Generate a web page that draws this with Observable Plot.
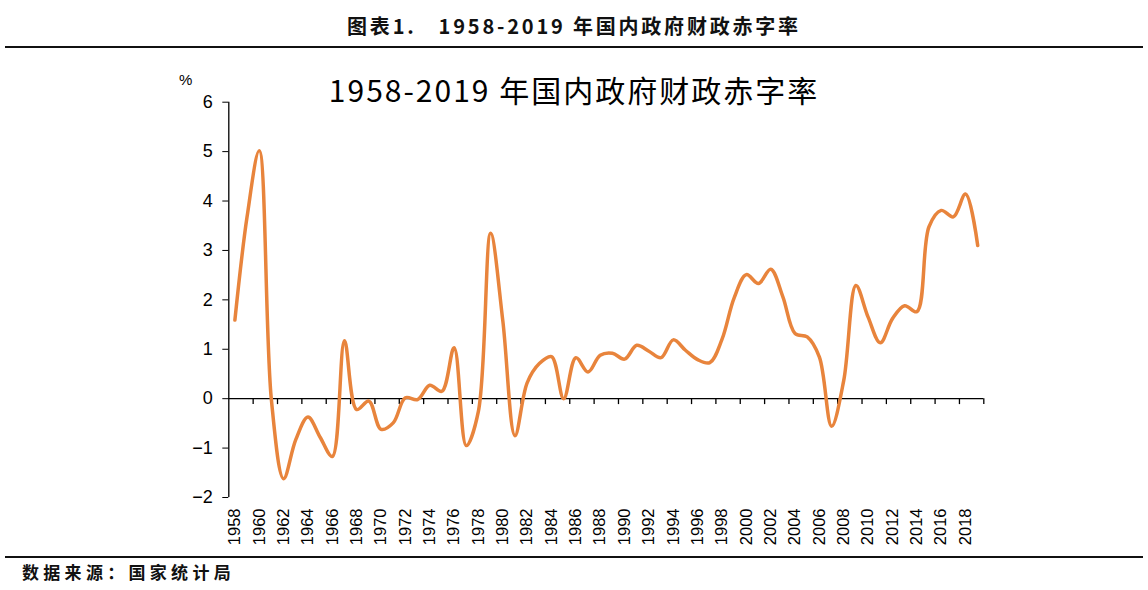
<!DOCTYPE html>
<html><head><meta charset="utf-8">
<script src="https://cdn.jsdelivr.net/npm/d3@7"></script>
<script src="https://cdn.jsdelivr.net/npm/@observablehq/plot@0.6"></script>
<style>
body{margin:0;background:#fff;}
#root{position:relative;width:1148px;height:590px;overflow:hidden;background:#fff;}
#head{position:absolute;left:0;top:13px;width:1148px;text-align:center;font:bold 20px "Noto Sans CJK SC",sans-serif;letter-spacing:2.8px;color:#111;line-height:26px;}
.rule{position:absolute;left:5px;width:1138px;height:1.5px;background:#111;}
#title{position:absolute;left:0;top:74px;width:1148px;text-align:center;font:30px "Noto Sans CJK SC",sans-serif;letter-spacing:2px;color:#000;line-height:30px;}
#pct{position:absolute;left:179px;top:71px;font:15px "Liberation Sans",sans-serif;color:#000;}
#foot{position:absolute;left:22px;top:561px;font:bold 17px "Noto Sans CJK SC",sans-serif;letter-spacing:4.3px;color:#111;line-height:22px;}
#chart{position:absolute;left:0;top:60px;}
</style></head>
<body><div id="root">
<div id="head">图表1.&nbsp;&nbsp; 1958-2019 年国内政府财政赤字率</div>
<div class="rule" style="top:46px"></div>
<div id="chart"></div>
<div id="title">1958-2019 年国内政府财政赤字率</div>
<div id="pct">%</div>
<div class="rule" style="top:556px"></div>
<div id="foot">数据来源：国家统计局</div>
</div>
<script>
const years = [1958,1959,1960,1961,1962,1963,1964,1965,1966,1967,1968,1969,1970,1971,1972,1973,1974,1975,1976,1977,1978,1979,1980,1981,1982,1983,1984,1985,1986,1987,1988,1989,1990,1991,1992,1993,1994,1995,1996,1997,1998,1999,2000,2001,2002,2003,2004,2005,2006,2007,2008,2009,2010,2011,2012,2013,2014,2015,2016,2017,2018,2019];
const deficitRate = [1.59,3.68,5.02,-0.03,-1.62,-0.83,-0.37,-0.78,-1.17,1.17,-0.22,-0.05,-0.62,-0.49,0.02,-0.02,0.27,0.15,1.03,-0.95,-0.25,3.35,1.58,-0.75,0.32,0.71,0.85,0.00,0.83,0.54,0.88,0.92,0.80,1.08,0.96,0.83,1.19,0.98,0.79,0.73,1.20,2.04,2.51,2.33,2.62,2.06,1.32,1.25,0.84,-0.56,0.37,2.29,1.65,1.13,1.62,1.88,1.76,3.48,3.81,3.68,4.14,3.10];
const yTicks = [-2,-1,0,1,2,3,4,5,6];
const labelYears = years.filter((y, i) => i % 2 === 0);
const boundaryTicks = years.filter((y, i) => i % 2 === 1).map(y => y + 0.5);

const data = years.map((year, i) => ({year, value: deficitRate[i]}));

const plot = Plot.plot({
  width: 1148,
  height: 490,
  marginTop: 41.7,
  marginBottom: 53,
  marginLeft: 228.3,
  marginRight: 164.7,
  style: {fontFamily: "'Liberation Sans', Arial, sans-serif", color: "#000", background: "transparent"},
  x: {domain: [years[0] - 0.5, years[years.length - 1] + 0.5], label: null},
  y: {domain: [yTicks[0], yTicks[yTicks.length - 1]], label: null},
  marks: [
    Plot.ruleX([years[0] - 0.5], {stroke: "#000", strokeWidth: 1.3}),
    Plot.ruleY([0], {stroke: "#000", strokeWidth: 1.3}),
    Plot.ruleX(boundaryTicks, {x: d => d, y1: 0, y2: -0.12, stroke: "#000", strokeWidth: 1.3}),
    Plot.axisY({ticks: yTicks, tickSize: 6, tickPadding: 10, fontSize: 18, stroke: "#000"}),
    Plot.axisX({ticks: labelYears, tickSize: 0, tickRotate: -90, tickPadding: 11, fontSize: 16.5, tickFormat: d => String(d)}),
    Plot.line(data, {x: "year", y: "value", stroke: "#E8843C", strokeWidth: 3.5, curve: "catmull-rom"})
  ]
});
document.getElementById("chart").appendChild(plot);
</script>
</body></html>
